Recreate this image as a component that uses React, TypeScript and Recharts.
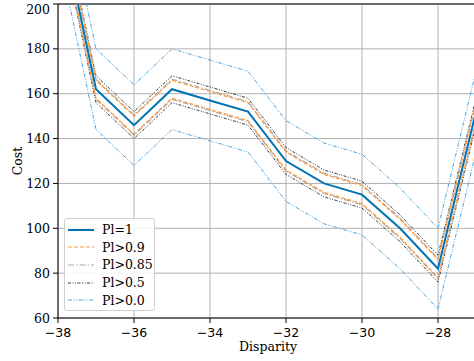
import React from 'react';
import { LineChart, Line, XAxis, YAxis, CartesianGrid, ReferenceLine } from 'recharts';

const disparity = [-38, -37, -36, -35, -34, -33, -32, -31, -30, -29, -28, -27];

const pl1 = [242, 162, 146, 162, 157, 152, 130, 120, 115, 100, 82, 152];
const pl09Upper = [246, 166, 150, 166, 161, 156, 134, 124, 119, 104, 86, 156];
const pl09Lower = [238, 158, 142, 158, 153, 148, 126, 116, 111, 96, 78, 148];
const pl085Upper = [246.5, 166.5, 150.5, 166.5, 161.5, 156.5, 134.5, 124.5, 119.5, 104.5, 86.5, 156.5];
const pl085Lower = [237.5, 157.5, 141.5, 157.5, 152.5, 147.5, 125.5, 115.5, 110.5, 95.5, 77.5, 147.5];
const pl05Upper = [248, 168, 152, 168, 163, 158, 136, 126, 121, 106, 88, 158];
const pl05Lower = [236, 156, 140, 156, 151, 146, 124, 114, 109, 94, 76, 146];
const pl00Upper = [260, 180, 164, 180, 175, 170, 148, 138, 133, 118, 100, 170];
const pl00Lower = [224, 144, 128, 144, 139, 134, 112, 102, 97, 82, 64, 134];

const xTicks = [-38, -36, -34, -32, -30, -28];
const yTicks = [60, 80, 100, 120, 140, 160, 180, 200];

const SERIF = '"DejaVu Serif", serif';
const SANS = '"DejaVu Sans", sans-serif';

type Series = { name: string; color: string; width: number; dash?: string; lines: { key: string; values: number[] }[] };

const series: Series[] = [
  { name: 'Pl=1', color: '#0173b2', width: 2, lines: [{ key: 'pl1', values: pl1 }] },
  { name: 'Pl>0.9', color: '#ff9a3c', width: 1.2, dash: '4 2', lines: [{ key: 'pl09u', values: pl09Upper }, { key: 'pl09l', values: pl09Lower }] },
  { name: 'Pl>0.85', color: '#a8a8a8', width: 1.2, dash: '6 2 1.5 2', lines: [{ key: 'pl085u', values: pl085Upper }, { key: 'pl085l', values: pl085Lower }] },
  { name: 'Pl>0.5', color: '#3a3a3a', width: 1, dash: '3 1.5 1 1.5 1 1.5', lines: [{ key: 'pl05u', values: pl05Upper }, { key: 'pl05l', values: pl05Lower }] },
  { name: 'Pl>0.0', color: '#4aa3df', width: 1, dash: '4 1.5 1 1.5 1 1.5', lines: [{ key: 'pl00u', values: pl00Upper }, { key: 'pl00l', values: pl00Lower }] },
];

const data = disparity.map((d, i) => {
  const row: Record<string, number> = { d };
  series.forEach((s) => s.lines.forEach((l) => { row[l.key] = l.values[i]; }));
  return row;
});

const fmt = (v: number) => (v < 0 ? '\u2212' + Math.abs(v) : String(v));

const XTick = (props: any) => {
  const { x, y, payload } = props;
  return (
    <text x={x} y={y + 11} textAnchor="middle" fontFamily={SANS} fontSize={12.5} fill="#000" style={{ fontFamily: SANS }}>
      {fmt(payload.value)}
    </text>
  );
};

const YTick = (props: any) => {
  const { x, y, payload } = props;
  return (
    <text x={x} y={y + 4.5} textAnchor="end" fontFamily={SERIF} fontSize={12.5} fill="#000" style={{ fontFamily: SERIF }}>
      {fmt(payload.value)}
    </text>
  );
};

const LegendBox = () => (
  <div style={{ position: 'absolute', left: 64, top: 218, boxSizing: 'border-box', width: 91, height: 93, border: '1px solid #d0d0d0', borderRadius: 3, background: 'rgba(255,255,255,0.85)', padding: '2px 0 0 3px', fontFamily: SERIF, fontSize: 12.5, color: '#000' }}>
    {series.map((s) => (
      <div key={s.name} style={{ display: 'flex', alignItems: 'center', height: 17.6, whiteSpace: 'nowrap' }}>
        <svg width={26} height={10} style={{ marginRight: 8, flex: 'none' }}>
          <line x1={0} y1={5} x2={26} y2={5} stroke={s.color} strokeWidth={s.width} strokeDasharray={s.dash} />
        </svg>
        <span>{s.name}</span>
      </div>
    ))}
  </div>
);

export default function App() {
  return (
    <div style={{ position: 'absolute', left: 0, top: 0, width: 474, height: 361, overflow: 'hidden' }}>
      <LineChart width={480} height={361} data={data} margin={{ top: 4, right: 4, left: 0, bottom: 0 }}>
        <CartesianGrid stroke="#b0b0b0" strokeWidth={1} />
        <XAxis
          dataKey="d"
          type="number"
          domain={[-38, -27]}
          allowDataOverflow
          ticks={xTicks}
          height={43}
          tickSize={5}
          tickMargin={3}
          stroke="#000"
          tick={<XTick />}
          label={{
            content: () => (
              <text x={268} y={351} textAnchor="middle" fontFamily={SERIF} fontSize={12.5} fill="#000">Disparity</text>
            ),
          }}
        />
        <YAxis
          type="number"
          domain={[60, 200]}
          allowDataOverflow
          ticks={yTicks}
          width={58}
          tickSize={5}
          tickMargin={3}
          stroke="#000"
          tick={<YTick />}
          label={{
            content: () => (
              <text x={22} y={161} textAnchor="middle" transform="rotate(-90, 22, 161)" fontFamily={SERIF} fontSize={12.5} fill="#000">Cost</text>
            ),
          }}
        />
        <ReferenceLine y={200} stroke="#000" strokeWidth={1} />
        {series.slice().reverse().flatMap((s) =>
          s.lines.map((l) => (
            <Line
              key={l.key}
              dataKey={l.key}
              name={s.name}
              type="linear"
              stroke={s.color}
              strokeWidth={s.width}
              strokeDasharray={s.dash}
              dot={false}
              activeDot={false}
              isAnimationActive={false}
            />
          ))
        )}
      </LineChart>
      <LegendBox />
    </div>
  );
}
